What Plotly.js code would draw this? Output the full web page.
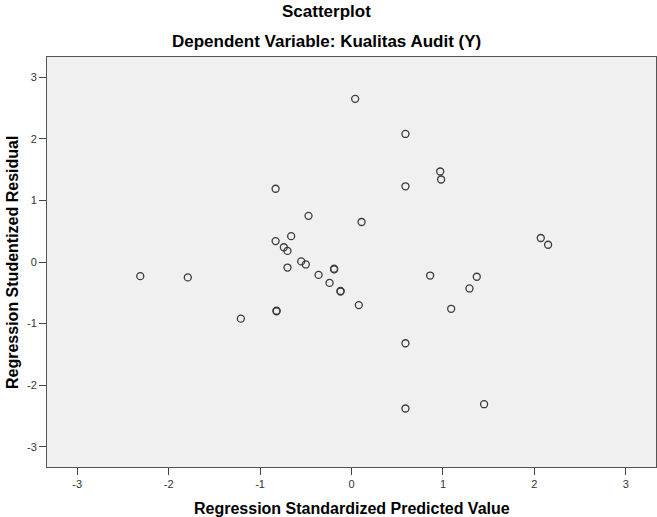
<!DOCTYPE html>
<html>
<head>
<meta charset="utf-8">
<script src="https://cdn.plot.ly/plotly-3.0.1.min.js"></script>
<style>html,body{margin:0;padding:0;background:#fff;}#chart{width:657px;height:517px;}</style>
</head>
<body>
<div id="chart"></div>
<script>
// Regression Standardized Predicted Value
const predicted = [0.04, 0.59, 0.97, 0.98, 0.59, -0.83, -0.47, 0.11, -0.66, 2.07, -0.83, 2.15,
  -0.74, -0.70, -0.55, -0.50, -0.70, -0.19, -0.19, -0.36, 0.86, -2.31, 1.37, -1.79,
  -0.24, 1.29, -0.12, -0.12, 0.08, 1.09, -0.82, -0.82, -1.21, 0.59, 0.59, 1.45];
// Regression Studentized Residual
const residual = [2.65, 2.08, 1.47, 1.34, 1.23, 1.19, 0.75, 0.65, 0.42, 0.39, 0.34, 0.28,
  0.24, 0.18, 0.01, -0.04, -0.09, -0.11, -0.12, -0.21, -0.22, -0.23, -0.24, -0.25,
  -0.34, -0.43, -0.47, -0.48, -0.70, -0.76, -0.79, -0.80, -0.92, -1.32, -2.38, -2.31];
const tickValues = [-3, -2, -1, 0, 1, 2, 3];
const tickLabels = ['-3', '-2', '-1', '0', '1', '2', '3'];

const FONT = 'Liberation Sans, Arial, sans-serif';

const trace = {
  x: predicted,
  y: residual,
  type: 'scatter',
  mode: 'markers',
  marker: {symbol: 'circle-open', size: 7, color: '#3a3a3a', line: {width: 1.3, color: '#3a3a3a'}},
  hoverinfo: 'x+y'
};

const axisCommon = {
  range: [-3.33, 3.33],
  tickvals: tickValues,
  ticktext: tickLabels,
  ticks: 'outside',
  ticklen: 7,
  tickwidth: 1,
  tickcolor: '#444',
  showgrid: false,
  zeroline: false,
  showline: true,
  mirror: true,
  linecolor: '#555',
  linewidth: 1,
  tickfont: {family: FONT, size: 11, color: '#333'}
};

const layout = {
  width: 657,
  height: 517,
  margin: {l: 47, r: 1, t: 57, b: 50},
  paper_bgcolor: '#ffffff',
  plot_bgcolor: '#f0f0f0',
  showlegend: false,
  xaxis: Object.assign({}, axisCommon),
  yaxis: Object.assign({}, axisCommon),
  annotations: [
    {text: '<b>Scatterplot</b>', xref: 'paper', yref: 'paper', x: 0.459, y: 1.110, xanchor: 'center', yanchor: 'middle', showarrow: false, font: {family: FONT, size: 17, color: '#000'}},
    {text: '<b>Dependent Variable: Kualitas Audit (Y)</b>', xref: 'paper', yref: 'paper', x: 0.459, y: 1.039, xanchor: 'center', yanchor: 'middle', showarrow: false, font: {family: FONT, size: 17, color: '#000'}},
    {text: '<b>Regression Standardized Predicted Value</b>', xref: 'paper', yref: 'paper', x: 0.5, y: -0.1, xanchor: 'center', yanchor: 'middle', showarrow: false, font: {family: FONT, size: 16, color: '#000'}},
    {text: '<b>Regression Studentized Residual</b>', xref: 'paper', yref: 'paper', x: -0.0575, y: 0.5, xanchor: 'center', yanchor: 'middle', textangle: -90, showarrow: false, font: {family: FONT, size: 16, color: '#000'}}
  ]
};

Plotly.newPlot('chart', [trace], layout, {displayModeBar: false, staticPlot: true});
</script>
</body>
</html>
